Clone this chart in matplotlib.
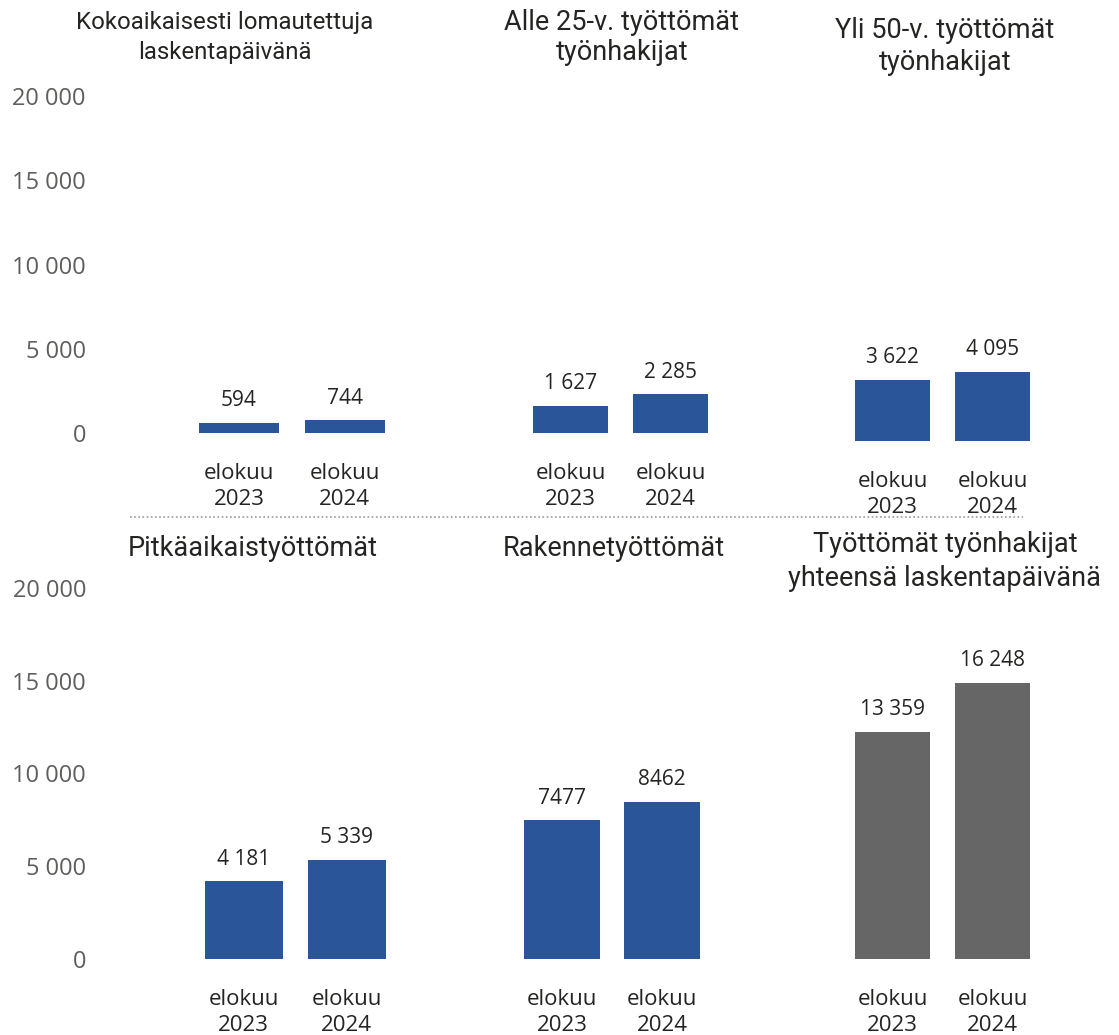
#! /usr/bin/env python3

import matplotlib
matplotlib.use("Agg")
import matplotlib.pyplot as plt
from matplotlib.lines import Line2D

# data
categories = ["elokuu\n2023", "elokuu\n2024"]
lomautetut = [594, 744]
alle25 = [1627, 2285]
yli50 = [3622, 4095]
pitkaaikais = [4181, 5339]
rakenne = [7477, 8462]
yhteensa = [13359, 16248]

titles = [
    ["Kokoaikaisesti lomautettuja", "laskentapäivänä"],
    ["Alle 25-v. työttömät", "työnhakijat"],
    ["Yli 50-v. työttömät", "työnhakijat"],
    ["Pitkäaikaistyöttömät"],
    ["Rakennetyöttömät"],
    ["Työttömät työnhakijat", "yhteensä laskentapäivänä"],
]
yticks = [0, 5000, 10000, 15000, 20000]
ytick_labels = ["0", "5 000", "10 000", "15 000", "20 000"]

BLUE = "#2A5599"
GREY = "#666666"
TEXT = "#252423"
TICK = "#605E5C"

W, H = 1119, 1035
fig = plt.figure(figsize=(W / 100, H / 100), dpi=100)
fig.patch.set_facecolor("white")

FONT = ["Open Sans", "DejaVu Sans"]
TITLE_FONT = ["Roboto", "DejaVu Sans"]


def fmt(v, sep):
    s = f"{v:,}"
    return s.replace(",", " " if sep else "")


def panel(values, color, c0, c1, width, ybase, ytop, sep=True, ticks=False):
    # c0, c1: bar centres in pixels, ybase: pixel of 0, ytop: pixel of 20 000
    step = c1 - c0
    x0 = c0 - step / 2
    ax = fig.add_axes([x0 / W, 1 - ybase / H, 2 * step / W, (ybase - ytop) / H])
    ax.set_xlim(-0.5, 1.5)
    ax.set_ylim(0, 20000)
    ax.bar([0, 1], values, width=width / step, color=color)
    for i, v in enumerate(values):
        ax.annotate(fmt(v, sep), (i, v), xytext=(0, 16), textcoords="offset points",
                    ha="center", va="center", fontsize=15, color=TEXT, family=FONT)
        ax.annotate(categories[i], (i, 0), xytext=(0, -38.5), textcoords="offset points",
                    ha="center", va="center", fontsize=16, color=TEXT, family=FONT,
                    linespacing=1.31, annotation_clip=False)
    for s in ax.spines.values():
        s.set_visible(False)
    ax.set_xticks([])
    if ticks:
        ax.set_yticks(yticks)
        ax.set_yticklabels(ytick_labels, color=TICK, fontsize=17, family=FONT)
        ax.tick_params(axis="y", length=0, pad=(x0 - 86) * 0.72)
    else:
        ax.set_yticks([])
    ax.patch.set_alpha(0)
    return ax


panel(lomautetut, BLUE, 239, 344.5, 80, 433, 96, ticks=True)
panel(alle25, BLUE, 570.5, 670.5, 75, 433, 96)
panel(yli50, BLUE, 892.5, 992.5, 75, 441, 104)
panel(pitkaaikais, BLUE, 243.5, 346.5, 78, 959, 588, ticks=True)
panel(rakenne, BLUE, 562, 662, 76, 959, 588, sep=False)
panel(yhteensa, GREY, 892.5, 992.5, 75, 959, 619)

# titles, one text per line
title_x = [225, 622, 945, 253, 614, 945]
title_y = [[22, 53], [22, 53], [30, 62], [548], [548], [545, 578]]
title_size = [17.3, 19.5, 19.5, 19.5, 19.5, 19.5]
for lines, x, ys, fs in zip(titles, title_x, title_y, title_size):
    for line, y in zip(lines, ys):
        fig.text(x / W, 1 - y / H, line, ha="center", va="center", fontsize=fs,
                 color=TEXT, family=TITLE_FONT)

# dotted separator
fig.add_artist(Line2D([130 / W, 1023 / W], [1 - 517 / H, 1 - 517 / H],
                      color="#999999", linestyle=(0, (1, 1.5)), linewidth=1.2))

fig.savefig("out.png", dpi=100)
